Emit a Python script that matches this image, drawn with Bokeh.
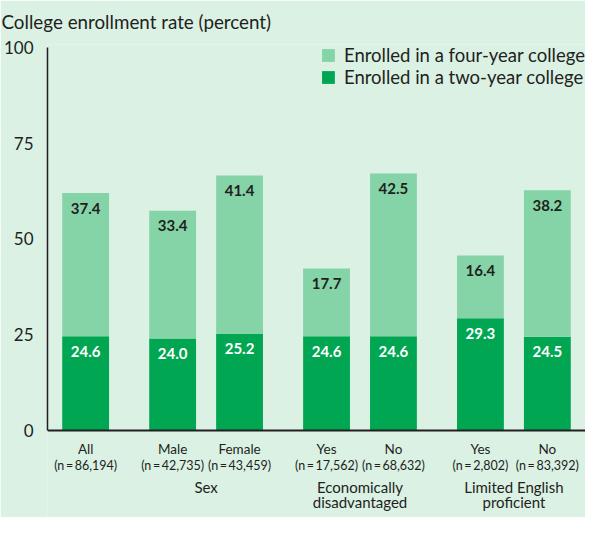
from bokeh.plotting import figure
from bokeh.models import (FactorRange, Range1d, ColumnDataSource, LabelSet, Legend,
                          LegendItem, Span, FixedTicker, Title)
from bokeh.core.properties import value
from bokeh.embed import file_html
from bokeh.resources import INLINE

# ---- data ----
groups = ["Total", "Sex", "Sex", "Economically disadvantaged", "Economically disadvantaged",
          "Limited English proficient", "Limited English proficient"]
subgroups = ["All", "Male", "Female", "Yes", "No", "Yes", "No"]
n_values = ["86,194", "42,735", "43,459", "17,562", "68,632", "2,802", "83,392"]
two_year = [24.6, 24.0, 25.2, 24.6, 24.6, 29.3, 24.5]
four_year = [37.4, 33.4, 41.4, 17.7, 42.5, 16.4, 38.2]
group_names = ["Sex", "Economically disadvantaged", "Limited English proficient"]
group_line1 = ["Sex", "Economically", "Limited English"]
group_line2 = ["", "disadvantaged", "proficient"]
y_ticks = [0, 25, 50, 75, 100]

BG = "#daf1e4"
LIGHT = "#84d4a8"
DARK = "#00a651"
INK = "#231f20"
FONT = "Lato"
TS = "\u2009"  # thin space

x = list(zip(groups, subgroups))
top_all = [a + b for a, b in zip(two_year, four_year)]
src = ColumnDataSource(dict(
    x=x, two=two_year, four=four_year, top_two=two_year, top_all=top_all,
    two_lbl=[f"{v:.1f}" for v in two_year], four_lbl=[f"{v:.1f}" for v in four_year],
    sub=subgroups, n=[f"(n{TS}={TS}{v})" for v in n_values], zero=[0] * len(x),
))

p = figure(x_range=FactorRange(*x, group_padding=0.3, range_padding=0.07,
                               range_padding_units="absolute"),
           y_range=Range1d(-22.72, 100.78),
           width=585, height=517, output_backend="svg", toolbar_location=None,
           min_border_left=46, min_border_right=0, min_border_top=44, min_border_bottom=0,
           background_fill_color=BG, border_fill_color=BG, outline_line_color=None)

p.title = Title(text="College enrollment rate (percent)", align="left", offset=-46,
                text_font=FONT, text_font_size="18.8px", text_font_style="normal",
                text_color=INK, standoff=19, vertical_align="top")

rs = p.vbar_stack(["two", "four"], x="x", width=0.7, color=[DARK, LIGHT], source=src,
                  line_color=None)

p.xaxis.visible = False
p.xgrid.grid_line_color = None
p.ygrid.grid_line_color = None
p.yaxis.ticker = FixedTicker(ticks=y_ticks)
p.yaxis.bounds = (0, 100)
p.yaxis.major_tick_line_color = None
p.yaxis.minor_tick_line_color = None
p.yaxis.axis_line_color = INK
p.yaxis.axis_line_width = 1.5
p.yaxis.major_label_text_font = FONT
p.yaxis.major_label_text_font_size = "17px"
p.yaxis.major_label_text_color = INK
p.yaxis.major_label_standoff = 8

p.add_layout(Span(location=0, dimension="width", line_color=INK, line_width=2))

# value labels
p.add_layout(LabelSet(x="x", y="top_all", text="four_lbl", source=src, y_offset=-15,
                      text_align="center", text_baseline="middle", text_font=value(FONT),
                      text_font_style="bold", text_font_size="15px", text_color=INK))
p.add_layout(LabelSet(x="x", y="top_two", text="two_lbl", source=src, y_offset=-15,
                      text_align="center", text_baseline="middle", text_font=value(FONT),
                      text_font_style="bold", text_font_size="15px", text_color="white"))

# category labels below axis
p.add_layout(LabelSet(x="x", y="zero", text="sub", source=src, y_offset=-19,
                      text_align="center", text_baseline="middle", text_font=value(FONT),
                      text_font_size="13.5px", text_color=INK))
p.add_layout(LabelSet(x="x", y="zero", text="n", source=src, y_offset=-35,
                      text_align="center", text_baseline="middle", text_font=value(FONT),
                      text_font_size="12.5px", text_color=INK))
gsrc = ColumnDataSource(dict(x=group_names, l1=group_line1, l2=group_line2,
                             zero=[0] * len(group_names)))
p.add_layout(LabelSet(x="x", y="zero", text="l1", source=gsrc, y_offset=-57,
                      text_align="center", text_baseline="middle", text_font=value(FONT),
                      text_font_size="15px", text_color=INK))
p.add_layout(LabelSet(x="x", y="zero", text="l2", source=gsrc, y_offset=-72,
                      text_align="center", text_baseline="middle", text_font=value(FONT),
                      text_font_size="15px", text_color=INK))

legend = Legend(items=[LegendItem(label="Enrolled in a four-year college", renderers=[rs[1]]),
                       LegendItem(label="Enrolled in a two-year college", renderers=[rs[0]])],
                location="top_right", background_fill_alpha=0, border_line_color=None,
                glyph_width=16, glyph_height=16, label_text_font=FONT,
                label_text_font_size="18.5px", label_text_color=INK, spacing=0, padding=0,
                margin=0, label_standoff=8, label_height=18, label_text_line_height=1.0)
p.add_layout(legend)

open("out.html", "w").write(file_html(p, INLINE))
